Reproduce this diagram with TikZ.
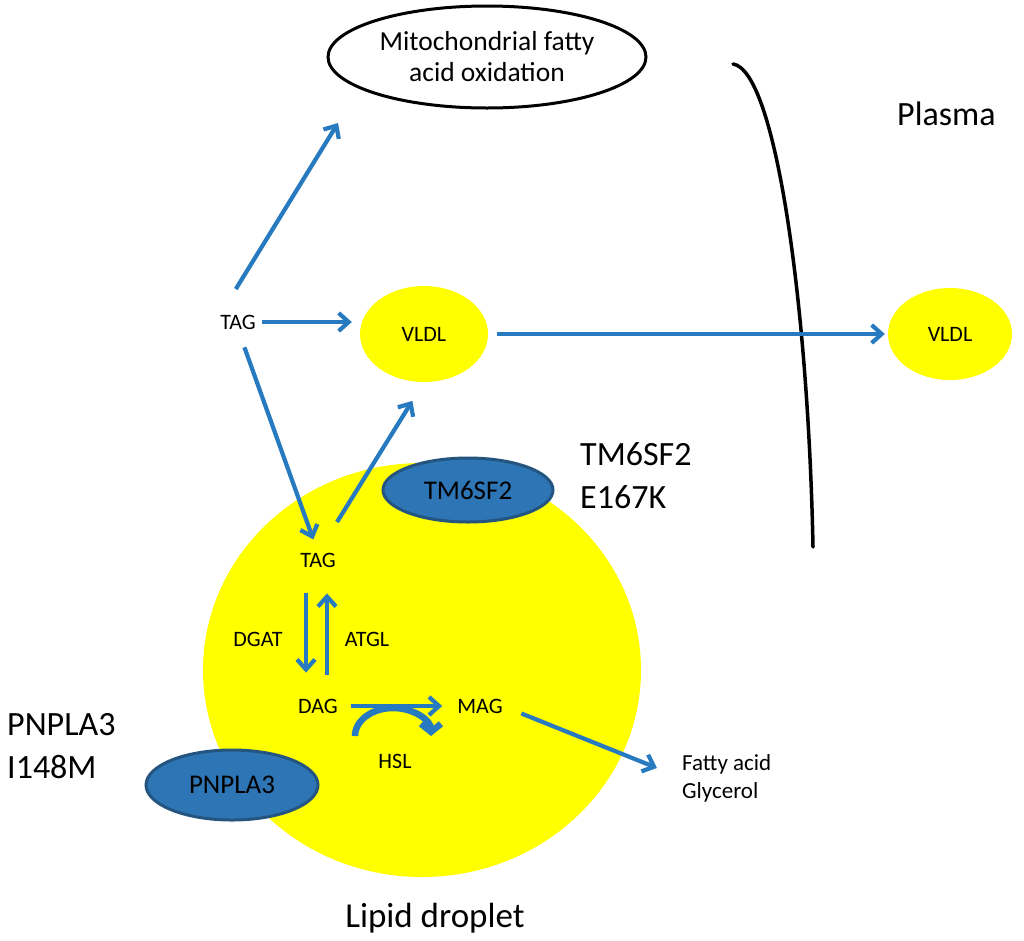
\documentclass[tikz,border=0pt]{standalone}
\usepackage{fontspec}
\setmainfont{Carlito}
\usetikzlibrary{arrows.meta,shapes.geometric}
\definecolor{flowblue}{RGB}{40,122,192}
\definecolor{protblue}{RGB}{46,117,182}
\definecolor{protedge}{RGB}{36,84,128}
\definecolor{lipidyellow}{RGB}{255,255,0}
\tikzset{
  flow/.style={draw=flowblue, line width=4.2pt, -{Straight Barb[length=10pt,width=18pt]}},
  hslarc/.style={draw=flowblue, line width=6.5pt, -{Straight Barb[length=8pt,width=20pt]}},
  lbl/.style={inner sep=0pt, font=\fontsize{22}{26}\selectfont},
  biglbl/.style={inner sep=0pt, align=left, anchor=west, font=\fontsize{34}{43}\selectfont},
  lipo/.style={ellipse, fill=lipidyellow, inner sep=0pt, font=\fontsize{22}{26}\selectfont},
  prot/.style={ellipse, fill=protblue, draw=protedge, line width=3pt, inner sep=0pt, font=\fontsize{27}{32}\selectfont},
}
\begin{document}
\begin{tikzpicture}[x=1pt, y=-1pt]
\fill[white] (0,0) rectangle (1024,940);
\useasboundingbox (0,0) rectangle (1024,940);

% cell border
\draw[line width=3.5pt, line cap=round] (733,64) .. controls (775,70) and (808,300) .. (813,547);

\node[ellipse, draw, line width=3pt, minimum width=318pt, minimum height=102pt, align=center,
  font=\fontsize{27.5}{31}\selectfont] (mito) at (487,57) {Mitochondrial fatty\\acid oxidation};
\node[ellipse, fill=lipidyellow, minimum width=438pt, minimum height=414pt] (drop) at (422,670) {};
\node[lipo, minimum width=128pt, minimum height=96pt] (vldl1) at (424,334) {VLDL};
\node[lipo, minimum width=124pt, minimum height=92pt] (vldl2) at (950,334) {VLDL};
\node[prot, minimum width=170pt, minimum height=64pt] (tm6) at (468,490) {TM6SF2};
\node[prot, minimum width=172pt, minimum height=70pt] (pnpla) at (232,785) {PNPLA3};

\node[biglbl] (plasma) at (897,114) {Plasma};
\node[biglbl] (tm6var) at (580,476) {TM6SF2\\E167K};
\node[biglbl] (pnplavar) at (7,746) {PNPLA3\\I148M};
\node[inner sep=0pt, font=\fontsize{35}{40}\selectfont] (droplbl) at (435,918) {Lipid droplet};

\node[lbl] (tag1) at (238,322) {TAG};
\node[lbl] (tag2) at (318,560) {TAG};
\node[lbl] (dgat) at (258,639) {DGAT};
\node[lbl] (atgl) at (367,639) {ATGL};
\node[lbl] (dag) at (318,706) {DAG};
\node[lbl] (mag) at (480,706) {MAG};
\node[lbl] (hsl) at (395,761) {HSL};
\node[inner sep=0pt, align=left, anchor=west, font=\fontsize{23}{28}\selectfont] (fatty) at (682,778) {Fatty acid\\Glycerol};

\coordinate (mitoin) at (338,123);

\path[flow, shorten <=30pt] (tag1.north west) -- (mitoin);
\path[flow, shorten <=6pt, shorten >=8pt] (tag1.east) -- (tag1.east -| vldl1.west);
\path[flow, shorten <=19pt, shorten >=14pt] (tag1.south) -- (tag2.north);
\path[flow, shorten <=36pt, shorten >=22pt] (tag2.north) -- (vldl1.south);
\path[flow, shorten <=9pt, shorten >=3pt] (vldl1.east) -- (vldl2.west);
\path[flow, shorten <=26pt, shorten >=26pt] ([xshift=-12pt]tag2.south) -- ([xshift=-12pt]dag.north);
\path[flow, shorten <=24pt, shorten >=26pt] ([xshift=9pt]dag.north) -- ([xshift=9pt]tag2.south);
\path[hslarc] ([shift={(-40,-25)}]hsl.center) arc[start angle=180, end angle=360, x radius=38, y radius=28];
\path[flow, shorten <=13pt, shorten >=15pt] (dag.east) -- (mag.west);
\path[flow, shorten <=20pt, shorten >=27pt] (mag.east) -- (fatty.west);
\end{tikzpicture}
\end{document}
